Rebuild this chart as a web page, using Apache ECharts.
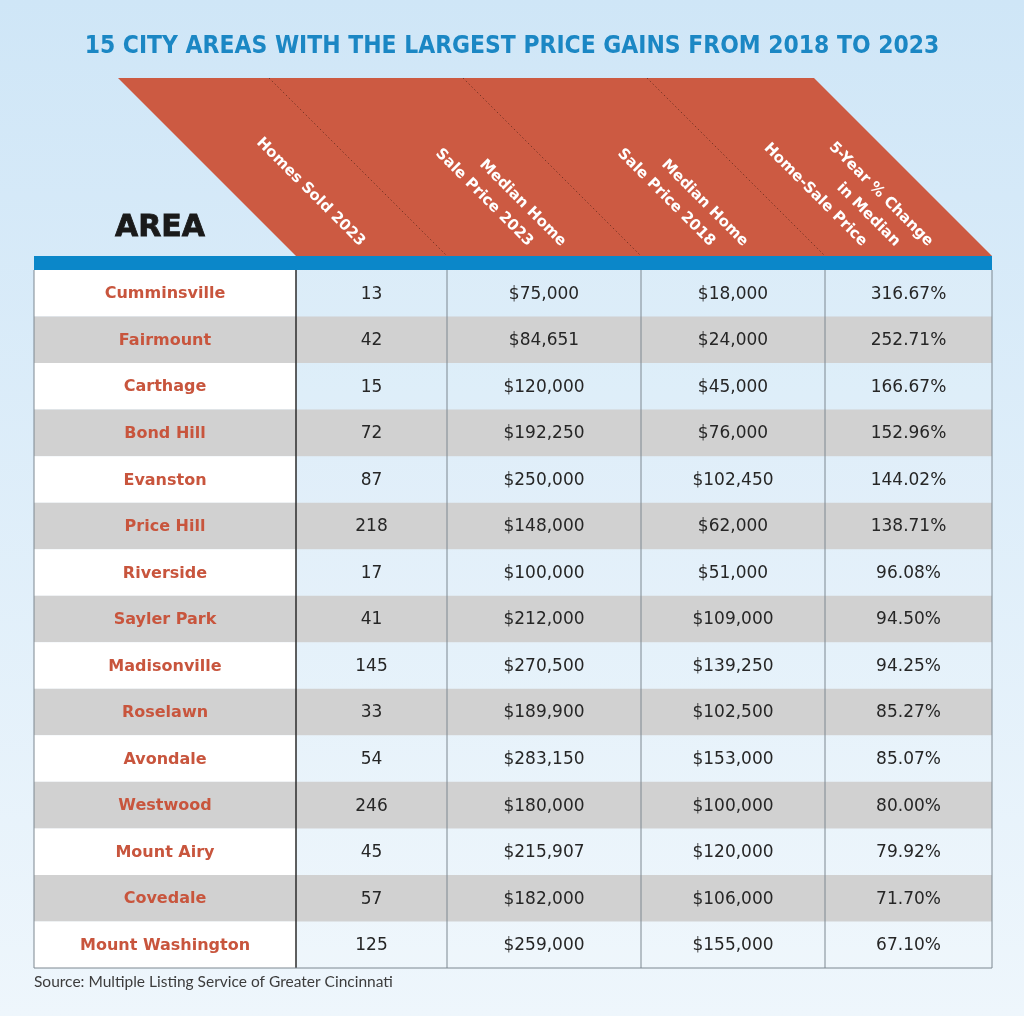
<!DOCTYPE html>
<html>
<head>
<meta charset="utf-8">
<script src="https://cdn.jsdelivr.net/npm/echarts@6/dist/echarts.min.js"></script>
<style>
  html, body { margin: 0; padding: 0; }
  body { background: linear-gradient(#cfe6f7, #eef6fc); }
  #chart { width: 1024px; height: 1016px; }
</style>
</head>
<body>
<div id="chart"></div>
<script>
// table data
const areas = ['Cumminsville', 'Fairmount', 'Carthage', 'Bond Hill', 'Evanston', 'Price Hill', 'Riverside',
  'Sayler Park', 'Madisonville', 'Roselawn', 'Avondale', 'Westwood', 'Mount Airy', 'Covedale', 'Mount Washington'];
const homesSold = [13, 42, 15, 72, 87, 218, 17, 41, 145, 33, 54, 246, 45, 57, 125];
const price2023 = [75000, 84651, 120000, 192250, 250000, 148000, 100000, 212000, 270500, 189900, 283150, 180000, 215907, 182000, 259000];
const price2018 = [18000, 24000, 45000, 76000, 102450, 62000, 51000, 109000, 139250, 102500, 153000, 100000, 120000, 106000, 155000];
const pctChange = [316.67, 252.71, 166.67, 152.96, 144.02, 138.71, 96.08, 94.50, 94.25, 85.27, 85.07, 80.00, 79.92, 71.70, 67.10];
const headerLines = [
  ['Homes Sold 2023'],
  ['Median Home', 'Sale Price 2023'],
  ['Median Home', 'Sale Price 2018'],
  ['5-Year % Change', 'in Median', 'Home-Sale Price']
];

// layout (table units = px across the table)
const colEdges = [0, 262, 413, 607, 791, 958];
const headerShift = [-9, 3, -4, -11];
const RED = '#cc5a42';
const BLUE = '#0b87c9';

const money = v => '$' + v.toLocaleString('en-US');
function cellText(c, i) {
  if (c === 0) return areas[i];
  if (c === 1) return String(homesSold[i]);
  if (c === 2) return money(price2023[i]);
  if (c === 3) return money(price2018[i]);
  return pctChange[i].toFixed(2) + '%';
}

function renderRow(params, api) {
  const i = params.dataIndex;
  const h = api.size([0, 1])[1];
  const gray = i % 2 === 1;
  const children = [];
  for (let c = 0; c < 5; c++) {
    const p0 = api.coord([colEdges[c], i]);
    const p1 = api.coord([colEdges[c + 1], i]);
    const fill = gray ? '#d1d1d1' : (c === 0 ? '#ffffff' : 'rgba(255,255,255,0.1)');
    children.push({
      type: 'rect',
      shape: { x: p0[0], y: p0[1] - h / 2, width: p1[0] - p0[0], height: h },
      style: { fill: fill }
    });
    children.push({
      type: 'text',
      x: (p0[0] + p1[0]) / 2,
      y: p0[1] + 1,
      style: {
        text: cellText(c, i),
        align: 'center',
        verticalAlign: 'middle',
        fontFamily: 'DejaVu Sans',
        fontWeight: c === 0 ? 'bold' : 'normal',
        fontSize: c === 0 ? 16 : 17,
        fill: c === 0 ? '#c8553d' : '#262626'
      }
    });
  }
  return { type: 'group', children: children };
}

function renderFrame(params, api) {
  const h = api.size([0, 1])[1];
  const last = areas.length - 1;
  const tableTop = api.coord([0, 0])[1] - h / 2;
  const tableBottom = api.coord([0, last])[1] + h / 2;
  const xs = colEdges.map(e => api.coord([e, 0])[0]);
  const redBottom = tableTop - 14;
  const redTop = redBottom - 178;
  const slant = 178;
  const children = [];

  // red slanted header
  children.push({
    type: 'polygon',
    shape: { points: [[xs[1] - slant, redTop], [xs[5] - slant, redTop], [xs[5], redBottom], [xs[1], redBottom]] },
    style: { fill: RED }
  });
  for (let c = 2; c < 5; c++) {
    children.push({
      type: 'line',
      shape: { x1: xs[c] - slant, y1: redTop, x2: xs[c], y2: redBottom },
      style: { stroke: 'rgba(70,30,20,0.6)', lineWidth: 1, lineDash: [1.5, 2.5] }
    });
  }
  headerLines.forEach((lines, j) => {
    const c = j + 1;
    const cx = (xs[c] + xs[c + 1]) / 2;
    const n = lines.length;
    lines.forEach((t, k) => {
      children.push({
        type: 'text',
        x: cx + 33 * ((n - 1) / 2 - k) + headerShift[j],
        y: redBottom - 12,
        rotation: -Math.PI / 4,
        style: {
          text: t, align: 'right', verticalAlign: 'middle',
          fontFamily: 'DejaVu Sans', fontWeight: 'bold', fontSize: 15, fill: '#ffffff'
        }
      });
    });
  });
  children.push({
    type: 'text',
    x: (xs[0] + xs[1]) / 2 - 5,
    y: tableTop - 42,
    style: {
      text: 'AREA', align: 'center', verticalAlign: 'middle',
      fontFamily: 'DejaVu Sans', fontWeight: 'bold', fontSize: 30, fill: '#1a1a1a',
      stroke: '#1a1a1a', lineWidth: 0.8
    }
  });

  // blue band
  children.push({
    type: 'rect',
    shape: { x: xs[0], y: redBottom, width: xs[5] - xs[0], height: 14 },
    style: { fill: BLUE }
  });

  // table rules
  xs.forEach((x, c) => {
    children.push({
      type: 'line',
      shape: { x1: x, y1: tableTop, x2: x, y2: tableBottom },
      style: { stroke: c === 1 ? '#2b2b2b' : '#7d8790', lineWidth: c === 1 ? 1.5 : 1 }
    });
  });
  children.push({
    type: 'line',
    shape: { x1: xs[0], y1: tableBottom, x2: xs[5], y2: tableBottom },
    style: { stroke: '#7d8790', lineWidth: 1 }
  });
  return { type: 'group', children: children };
}

const chart = echarts.init(document.getElementById('chart'));
chart.setOption({
  animation: false,
  title: {
    text: '15 CITY AREAS WITH THE LARGEST PRICE GAINS FROM 2018 TO 2023',
    left: 'center',
    top: 30,
    textStyle: { fontFamily: 'DejaVu Sans Condensed', fontWeight: 'bold', fontSize: 24.4, color: '#1b87c4' }
  },
  grid: { left: 34, top: 270, width: 958, height: 698 },
  xAxis: { type: 'value', min: 0, max: 958, show: false },
  yAxis: { type: 'category', data: areas, inverse: true, show: false },
  graphic: [{
    type: 'text',
    left: 34,
    top: 974,
    style: {
      text: 'Source: Multiple Listing Service of Greater Cincinnati',
      fontFamily: 'Lato', fontSize: 15.5, fill: '#3c3c3c'
    }
  }],
  series: [
    {
      type: 'custom',
      renderItem: renderRow,
      clip: false,
      encode: { x: 0, y: 1 },
      data: areas.map(a => [0, a])
    },
    {
      type: 'custom',
      renderItem: renderFrame,
      clip: false,
      encode: { x: 0, y: 1 },
      data: [[0, areas[0]]]
    }
  ]
});
</script>
</body>
</html>
